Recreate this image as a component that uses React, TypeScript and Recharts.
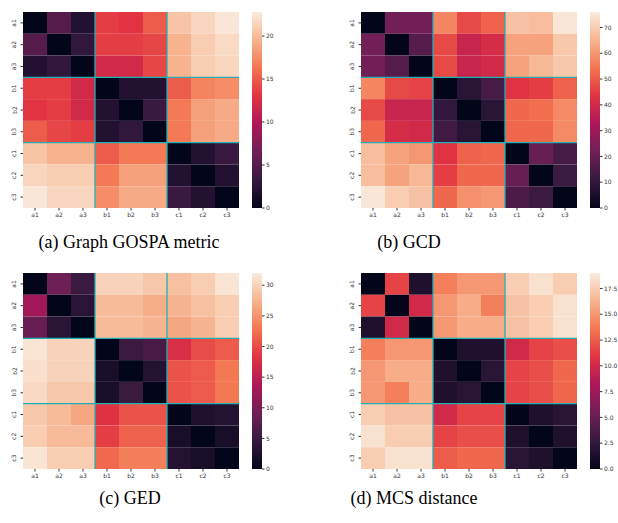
import React from "react";
import { BarChart, Bar, XAxis, YAxis, Cell, ReferenceLine } from "recharts";

const labels = ["a1", "a2", "a3", "b1", "b2", "b3", "c1", "c2", "c3"];

// rows = y labels (a1..c3), columns = x labels (a1..c3)
const gospaValues = [
  [0, 5, 2, 13.5, 13, 15, 20.5, 21.5, 22.5],
  [5, 0, 3, 13.5, 13.5, 14, 19.5, 21, 21.8],
  [2, 3, 0, 12, 12, 14, 19.5, 21, 21.5],
  [13.5, 13.5, 12, 0, 2, 2, 15, 17, 17.5],
  [13, 13.5, 12, 2, 0, 3.5, 16.5, 18.5, 19],
  [15, 14, 13.5, 2, 3, 0, 16.5, 18.5, 19],
  [20.5, 19.5, 19.5, 15, 16.5, 16.5, 0, 2, 3.5],
  [21.5, 21, 21, 16.5, 18.5, 18.5, 2, 0, 2],
  [22.5, 21.5, 21.5, 17.5, 19, 19, 3.5, 2, 0],
];
const gcdValues = [
  [0, 22, 22, 57, 47, 51, 68, 67, 75],
  [22, 0, 17, 47, 38, 41, 62, 62, 69],
  [22, 17, 0, 47, 38, 40, 62, 66, 69],
  [57, 47, 46, 0, 8, 14, 43, 45, 51],
  [47, 38, 38, 10, 0, 8, 52, 53, 58],
  [52, 41, 40, 13, 8, 0, 52, 52, 58],
  [67, 62, 60, 43, 51, 52, 0, 20, 14],
  [67, 62, 66, 45, 52, 52, 20, 0, 12],
  [75, 70, 68, 52, 59, 60, 15, 12, 0],
];
const gedValues = [
  [0, 9, 5, 30, 30, 29, 28.5, 29.5, 31.5],
  [13, 0, 3.5, 28, 28, 27, 27.5, 28.5, 29.5],
  [8.5, 3.5, 0, 28, 28, 27.5, 26.5, 27.5, 29.5],
  [31.5, 30, 30, 0, 5, 6, 17.5, 20, 21],
  [31, 30, 30, 2, 0, 3, 20.5, 21, 23],
  [30.5, 29, 29, 2, 5, 0, 20.5, 21, 23],
  [29, 28, 26.5, 18, 20.5, 20.5, 0, 2.5, 3],
  [29.5, 28, 28, 19, 21.5, 21.5, 2, 0, 2],
  [31.5, 29.5, 29.5, 22, 23.5, 23.5, 3, 2, 0],
];
const mcsValues = [
  [0, 11.5, 1.5, 14, 15, 15, 17.5, 18.5, 17.5],
  [11.5, 0, 10, 15, 16, 14, 17, 17.5, 18.5],
  [1.5, 10, 0, 15, 16, 16, 17, 17.5, 18.5],
  [14, 15, 15, 0, 1.5, 1.5, 10, 11.5, 12],
  [15, 16, 16, 1.5, 0, 2, 11.5, 12, 13],
  [15, 14, 16, 1.5, 2, 0, 11.5, 12, 13],
  [17.5, 17, 17, 10, 11.5, 11.5, 0, 1.5, 2],
  [18.5, 17.5, 17.5, 11.5, 12, 12, 1.5, 0, 1.5],
  [17.5, 18.5, 18.5, 12.5, 13, 13, 2, 1.5, 0],
];

const gospaTicks = [0, 5, 10, 15, 20];
const gcdTicks = [0, 10, 20, 30, 40, 50, 60, 70];
const gedTicks = [0, 5, 10, 15, 20, 25, 30];
const mcsTicks = [0, 2.5, 5, 7.5, 10, 12.5, 15, 17.5];

// seaborn "rocket" anchors
const rocketAnchors = [
  [3, 5, 26],
  [53, 25, 62],
  [112, 31, 87],
  [173, 23, 89],
  [225, 51, 66],
  [243, 118, 81],
  [246, 180, 143],
  [250, 235, 221],
];

function rocket(t: number) {
  const v = Math.max(0, Math.min(1, t)) * (rocketAnchors.length - 1);
  const i = Math.min(Math.floor(v), rocketAnchors.length - 2);
  const f = v - i;
  const a = rocketAnchors[i];
  const b = rocketAnchors[i + 1];
  const c = a.map((x, k) => Math.round(x + (b[k] - x) * f));
  return `rgb(${c[0]},${c[1]},${c[2]})`;
}

const PLOT_W = 216;
const PLOT_H = 196;
const Y_AXIS_W = 23;
const X_AXIS_H = 20;
const CB_PAD = 6;
const TEXT = "#333";
const SEP = "#22b0b4";
const TICK_FONT = 6;

function RowTick(props: any) {
  const { x, y, payload } = props;
  return (
    <text
      x={x}
      y={y}
      dy={-2}
      transform={`rotate(-90, ${x}, ${y})`}
      textAnchor="middle"
      fontSize={TICK_FONT}
      fontFamily="DejaVu Sans"
      fill={TEXT}
    >
      {labels[Math.floor(payload.value)]}
    </text>
  );
}

function Heatmap({ values, vmax, left, top }: { values: number[][]; vmax: number; left: number; top: number }) {
  const data = labels.map((name) => {
    const row: Record<string, any> = { name };
    labels.forEach((_, i) => (row["r" + i] = 1));
    return row;
  });
  return (
    <div style={{ position: "absolute", left: left - Y_AXIS_W, top }}>
      <BarChart
        width={Y_AXIS_W + PLOT_W}
        height={PLOT_H + X_AXIS_H}
        data={data}
        margin={{ top: 0, right: 0, bottom: 0, left: 0 }}
        barCategoryGap={0}
        barGap={0}
      >
        <XAxis
          dataKey="name"
          height={X_AXIS_H}
          axisLine={false}
          tickSize={2.5}
          tickMargin={2.5}
          tickLine={{ stroke: TEXT }}
          tick={{ fontSize: TICK_FONT, fontFamily: "DejaVu Sans", fill: TEXT }}
          interval={0}
        />
        <YAxis
          type="number"
          domain={[0, 9]}
          reversed
          width={Y_AXIS_W}
          ticks={[0.5, 1.5, 2.5, 3.5, 4.5, 5.5, 6.5, 7.5, 8.5]}
          interval={0}
          axisLine={false}
          tickSize={2.5}
          tickLine={{ stroke: TEXT }}
          tick={<RowTick />}
          allowDataOverflow
        />
        {labels.map((_, i) => (
          <Bar key={i} dataKey={"r" + i} stackId="s" isAnimationActive={false}>
            {labels.map((__, j) => (
              <Cell key={j} fill={rocket(values[i][j] / vmax)} />
            ))}
          </Bar>
        ))}
        {["b1", "c1"].map((v) => (
          <ReferenceLine key={"x" + v} x={v} position="start" stroke={SEP} strokeWidth={1.3} />
        ))}
        {[3, 6].map((v) => (
          <ReferenceLine key={"y" + v} y={v} stroke={SEP} strokeWidth={1.3} />
        ))}
      </BarChart>
    </div>
  );
}

function ColorBar({ vmax, ticks, left, top, id, fixed }: { vmax: number; ticks: number[]; left: number; top: number; id: string; fixed?: boolean }) {
  return (
    <div style={{ position: "absolute", left, top: top - CB_PAD }}>
      <BarChart
        width={40}
        height={PLOT_H + 2 * CB_PAD}
        data={[{ name: "v", v: vmax }]}
        margin={{ top: CB_PAD, right: 0, bottom: CB_PAD, left: 0 }}
        barCategoryGap={0}
      >
        <XAxis dataKey="name" hide />
        <YAxis
          orientation="right"
          width={30}
          type="number"
          domain={[0, vmax]}
          ticks={ticks}
          interval={0}
          axisLine={false}
          tickSize={2.5}
          tickMargin={1.5}
          tickLine={{ stroke: TEXT }}
          tick={{ fontSize: TICK_FONT, fontFamily: "DejaVu Sans", fill: TEXT }}
          tickFormatter={(v: number) => (fixed ? v.toFixed(1) : String(v))}
          allowDataOverflow
        />
        <Bar dataKey="v" fill={`url(#${id})`} isAnimationActive={false} />
      </BarChart>
    </div>
  );
}

function Caption({ text, cx, top }: { text: string; cx: number; top: number }) {
  return (
    <div
      style={{
        position: "absolute",
        left: cx - 150,
        width: 300,
        top,
        textAlign: "center",
        fontFamily: "'Liberation Serif', 'Times New Roman', serif",
        fontSize: 18,
        lineHeight: "18px",
        color: "#000",
      }}
    >
      {text}
    </div>
  );
}

export default function App() {
  const stops = rocketAnchors.map((_, k) => {
    const t = k / (rocketAnchors.length - 1);
    return <stop key={k} offset={t} stopColor={rocket(t)} />;
  });
  return (
    <div style={{ position: "absolute", left: 0, top: 0, width: 618, height: 523, background: "#fff", overflow: "hidden" }}>
      <svg width={0} height={0} style={{ position: "absolute" }}>
        <defs>
          <linearGradient id="rocketGrad" x1="0" y1="1" x2="0" y2="0">
            {stops}
          </linearGradient>
        </defs>
      </svg>

      <Heatmap values={gospaValues} vmax={22.8} left={23} top={12} />
      <ColorBar vmax={22.8} ticks={gospaTicks} left={252} top={12} id="rocketGrad" />
      <Caption text="(a) Graph GOSPA metric" cx={129} top={233} />

      <Heatmap values={gcdValues} vmax={76} left={361} top={12} />
      <ColorBar vmax={76} ticks={gcdTicks} left={590} top={12} id="rocketGrad" />
      <Caption text="(b) GCD" cx={409} top={233} />

      <Heatmap values={gedValues} vmax={32} left={23} top={273} />
      <ColorBar vmax={32} ticks={gedTicks} left={252} top={273} id="rocketGrad" />
      <Caption text="(c) GED" cx={130} top={489} />

      <Heatmap values={mcsValues} vmax={19} left={361} top={273} />
      <ColorBar vmax={19} ticks={mcsTicks} left={590} top={273} id="rocketGrad" fixed />
      <Caption text="(d) MCS distance" cx={414} top={489} />
    </div>
  );
}
